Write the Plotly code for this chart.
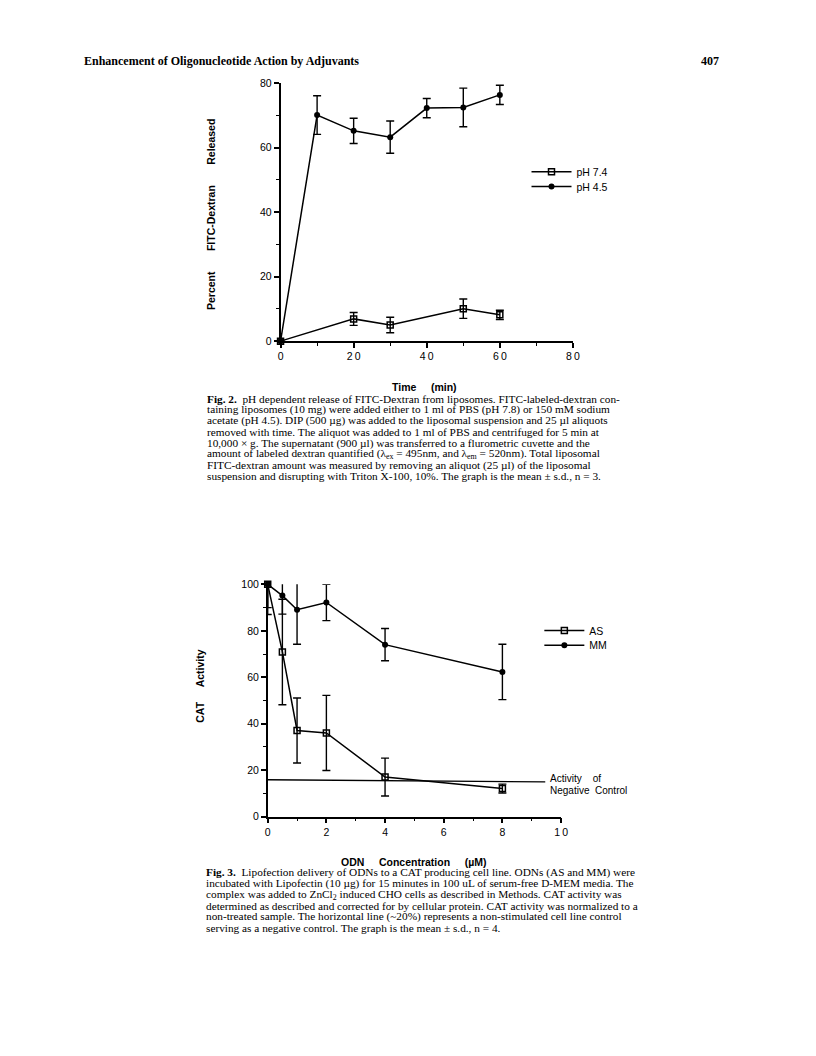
import plotly.graph_objects as go

W, H = 816, 1056

# ---------------- Fig. 2 data ----------------
time_74 = [0, 20, 30, 50, 60]
rel_74 = [0, 6.9, 5.0, 10.05, 8.15]
err_74 = [0, 2.0, 2.4, 3.0, 1.45]

time_45 = [0, 10, 20, 30, 40, 50, 60]
rel_45 = [0, 70.1, 65.2, 63.25, 72.25, 72.45, 76.35]
err_45 = [0, 6.0, 3.9, 5.0, 3.0, 6.0, 3.0]

fig2_xticks = [0, 20, 40, 60, 80]
fig2_xticktext = ["0", "2\u20090", "4\u20090", "6\u20090", "8\u20090"]
fig2_yticks = [0, 20, 40, 60, 80]

# ---------------- Fig. 3 data ----------------
conc = [0, 0.5, 1, 2, 4, 8]
as_act = [100, 70.9, 37.1, 36.05, 17.05, 12.1]
as_err_plus = [10, 22.7, 14.0, 16.15, 8.15, 1.9]
as_err_minus = [13, 22.7, 14.0, 16.15, 8.15, 1.9]
mm_act = [100, 95.15, 89.1, 92.2, 74.05, 62.3]
mm_err = [10, 7.95, 14.9, 7.8, 6.95, 11.9]

negctl_x = [0, 9.46]
negctl_y = [15.9, 15.0]

fig3_xticks = [0, 2, 4, 6, 8, 10]
fig3_xticktext = ["0", "2", "4", "6", "8", "1\u20090"]
fig3_yticks = [0, 20, 40, 60, 80, 100]

caption2 = [
    "<b>Fig. 2.</b>  pH dependent release of FITC-Dextran from liposomes. FITC-labeled-dextran con-",
    "taining liposomes (10 mg) were added either to 1 ml of PBS (pH 7.8) or 150 mM sodium",
    "acetate (pH 4.5). DIP (500 \u00b5g) was added to the liposomal suspension and 25 \u00b5l aliquots",
    "removed with time. The aliquot was added to 1 ml of PBS and centrifuged for 5 min at",
    "10,000 \u00d7 g. The supernatant (900 \u00b5l) was transferred to a flurometric cuvette and the",
    "amount of labeled dextran quantified (\u03bb<sub>ex</sub> = 495nm, and \u03bb<sub>em</sub> = 520nm). Total liposomal",
    "FITC-dextran amount was measured by removing an aliquot (25 \u00b5l) of the liposomal",
    "suspension and disrupting with Triton X-100, 10%. The graph is the mean \u00b1 s.d., n = 3.",
]
caption3 = [
    "<b>Fig. 3.</b>  Lipofection delivery of ODNs to a CAT producing cell line. ODNs (AS and MM) were",
    "incubated with Lipofectin (10 \u00b5g) for 15 minutes in 100 uL of serum-free D-MEM media. The",
    "complex was added to ZnCl<sub>2</sub> induced CHO cells as described in Methods. CAT activity was",
    "determined as described and corrected for by cellular protein. CAT activity was normalized to a",
    "non-treated sample. The horizontal line (~20%) represents a non-stimulated cell line control",
    "serving as a negative control. The graph is the mean \u00b1 s.d., n = 4.",
]


def px(x):
    return x / W


def py(y):
    return 1 - y / H


SANS = "Liberation Sans"
SERIF = "Liberation Serif"

fig = go.Figure()

line_style = dict(color="black", width=1.5)
eb = dict(type="data", color="black", thickness=1.4, width=4, symmetric=False)
sq = dict(symbol="square-open", size=6, color="black", line=dict(width=1.5, color="black"))
dot = dict(symbol="circle", size=6, color="black")

fig.add_trace(go.Scatter(
    x=time_74, y=rel_74, name="pH 7.4", mode="lines+markers",
    line=line_style, marker=sq,
    error_y=dict(eb, array=err_74, arrayminus=err_74),
    xaxis="x", yaxis="y", legend="legend", cliponaxis=False,
))
fig.add_trace(go.Scatter(
    x=time_45, y=rel_45, name="pH 4.5", mode="lines+markers",
    line=line_style, marker=dot,
    error_y=dict(eb, array=err_45, arrayminus=err_45),
    xaxis="x", yaxis="y", legend="legend3", cliponaxis=False,
))

fig.add_trace(go.Scatter(
    x=negctl_x, y=negctl_y, mode="lines", line=dict(color="black", width=1.3),
    showlegend=False, xaxis="x2", yaxis="y2", cliponaxis=False,
))
fig.add_trace(go.Scatter(
    x=conc, y=as_act, name="AS", mode="lines+markers",
    line=line_style, marker=sq,
    error_y=dict(eb, array=as_err_plus, arrayminus=as_err_minus),
    xaxis="x2", yaxis="y2", legend="legend2", cliponaxis=False,
))
fig.add_trace(go.Scatter(
    x=conc, y=mm_act, name="MM", mode="lines+markers",
    line=line_style, marker=dot,
    error_y=dict(eb, array=mm_err, arrayminus=mm_err),
    xaxis="x2", yaxis="y2", legend="legend4", cliponaxis=False,
))

tickfont = dict(family=SANS, size=10.5, color="black")
axis_common = dict(
    showline=True, linecolor="black", linewidth=1.5, showgrid=False, zeroline=False,
    ticks="outside", ticklen=5, tickwidth=1.5, tickcolor="black", tickfont=tickfont,
)
legfont = dict(family=SANS, size=10.5, color="black")


def leg(x, top):
    return dict(x=px(x), y=py(top), xanchor="left", yanchor="top", font=legfont,
                bgcolor="rgba(0,0,0,0)", itemwidth=40, tracegroupgap=0)


fig.update_layout(
    width=W, height=H, autosize=False,
    margin=dict(l=0, r=0, t=0, b=0),
    paper_bgcolor="white", plot_bgcolor="rgba(0,0,0,0)",
    xaxis=dict(axis_common, domain=[px(281), px(577)], range=[0, 80],
               tickvals=fig2_xticks, ticktext=fig2_xticktext, anchor="y",
               minor=dict(tickvals=[10, 30, 50, 70], ticks="outside", ticklen=3,
                          tickwidth=1.2, tickcolor="black")),
    yaxis=dict(axis_common, domain=[py(339), py(78)], range=[0, 80],
               tickvals=fig2_yticks, anchor="x",
               minor=dict(tickvals=[10, 30, 50, 70], ticks="outside", ticklen=3,
                          tickwidth=1.2, tickcolor="black")),
    xaxis2=dict(axis_common, domain=[px(268), px(565)], range=[0, 10],
                tickvals=fig3_xticks, ticktext=fig3_xticktext, anchor="y2",
                minor=dict(tickvals=[1, 3, 5, 7, 9], ticks="outside", ticklen=3,
                           tickwidth=1.2, tickcolor="black")),
    yaxis2=dict(axis_common, domain=[py(820), py(820 - 2.35 * 100)], range=[0, 100],
                tickvals=fig3_yticks, anchor="x2",
                minor=dict(tickvals=[10, 30, 50, 70, 90], ticks="outside", ticklen=3,
                           tickwidth=1.2, tickcolor="black")),
    legend=leg(530, 153),
    legend3=leg(530, 168),
    legend2=leg(543, 617),
    legend4=leg(543, 632),
)

ann = []


def add_text(text, x, y, size=10, family=SANS, xanchor="center", yanchor="middle", angle=0):
    ann.append(dict(text=text, x=px(x), y=py(y), xref="paper", yref="paper",
                    xanchor=xanchor, yanchor=yanchor, showarrow=False, textangle=angle,
                    font=dict(family=family, size=size, color="black")))


# header
add_text("<b>Enhancement of Oligonucleotide Action by Adjuvants</b>", 80, 56, size=12,
         family=SERIF, xanchor="left")
add_text("<b>407</b>", 727, 56, size=12, family=SERIF, xanchor="right")

# axis titles
sp = "\u00a0" * 7
add_text("<b>Percent" + sp + "FITC-Dextran" + sp + "Released</b>", 210, 211, size=10.5, angle=-90)
add_text("<b>Time" + "\u00a0" * 5 + "(min)</b>", 427, 385, size=10.5)
add_text("<b>CAT" + "\u00a0" * 5 + "Activity</b>", 200, 688, size=10.5, angle=-90)
add_text("<b>ODN" + "\u00a0" * 5 + "Concentration" + "\u00a0" * 5 + "(\u00b5M)</b>", 416, 866, size=10.5)

# negative control label
add_text("Activity" + "\u00a0" * 4 + "of", 552, 781, size=10, xanchor="left")
add_text("Negative" + "\u00a0" * 2 + "Control", 552, 794, size=10, xanchor="left")

# captions
for i, line in enumerate(caption2):
    add_text(line, 205, 397.3 + 11.2 * i, size=11.3, family=SERIF, xanchor="left")
for i, line in enumerate(caption3):
    add_text(line, 203, 876.7 + 11.1 * i, size=11.3, family=SERIF, xanchor="left")

fig.update_layout(annotations=ann)

fig.write_html("out.html", config={"displayModeBar": False},
               post_script="document.body.style.margin='0';")
